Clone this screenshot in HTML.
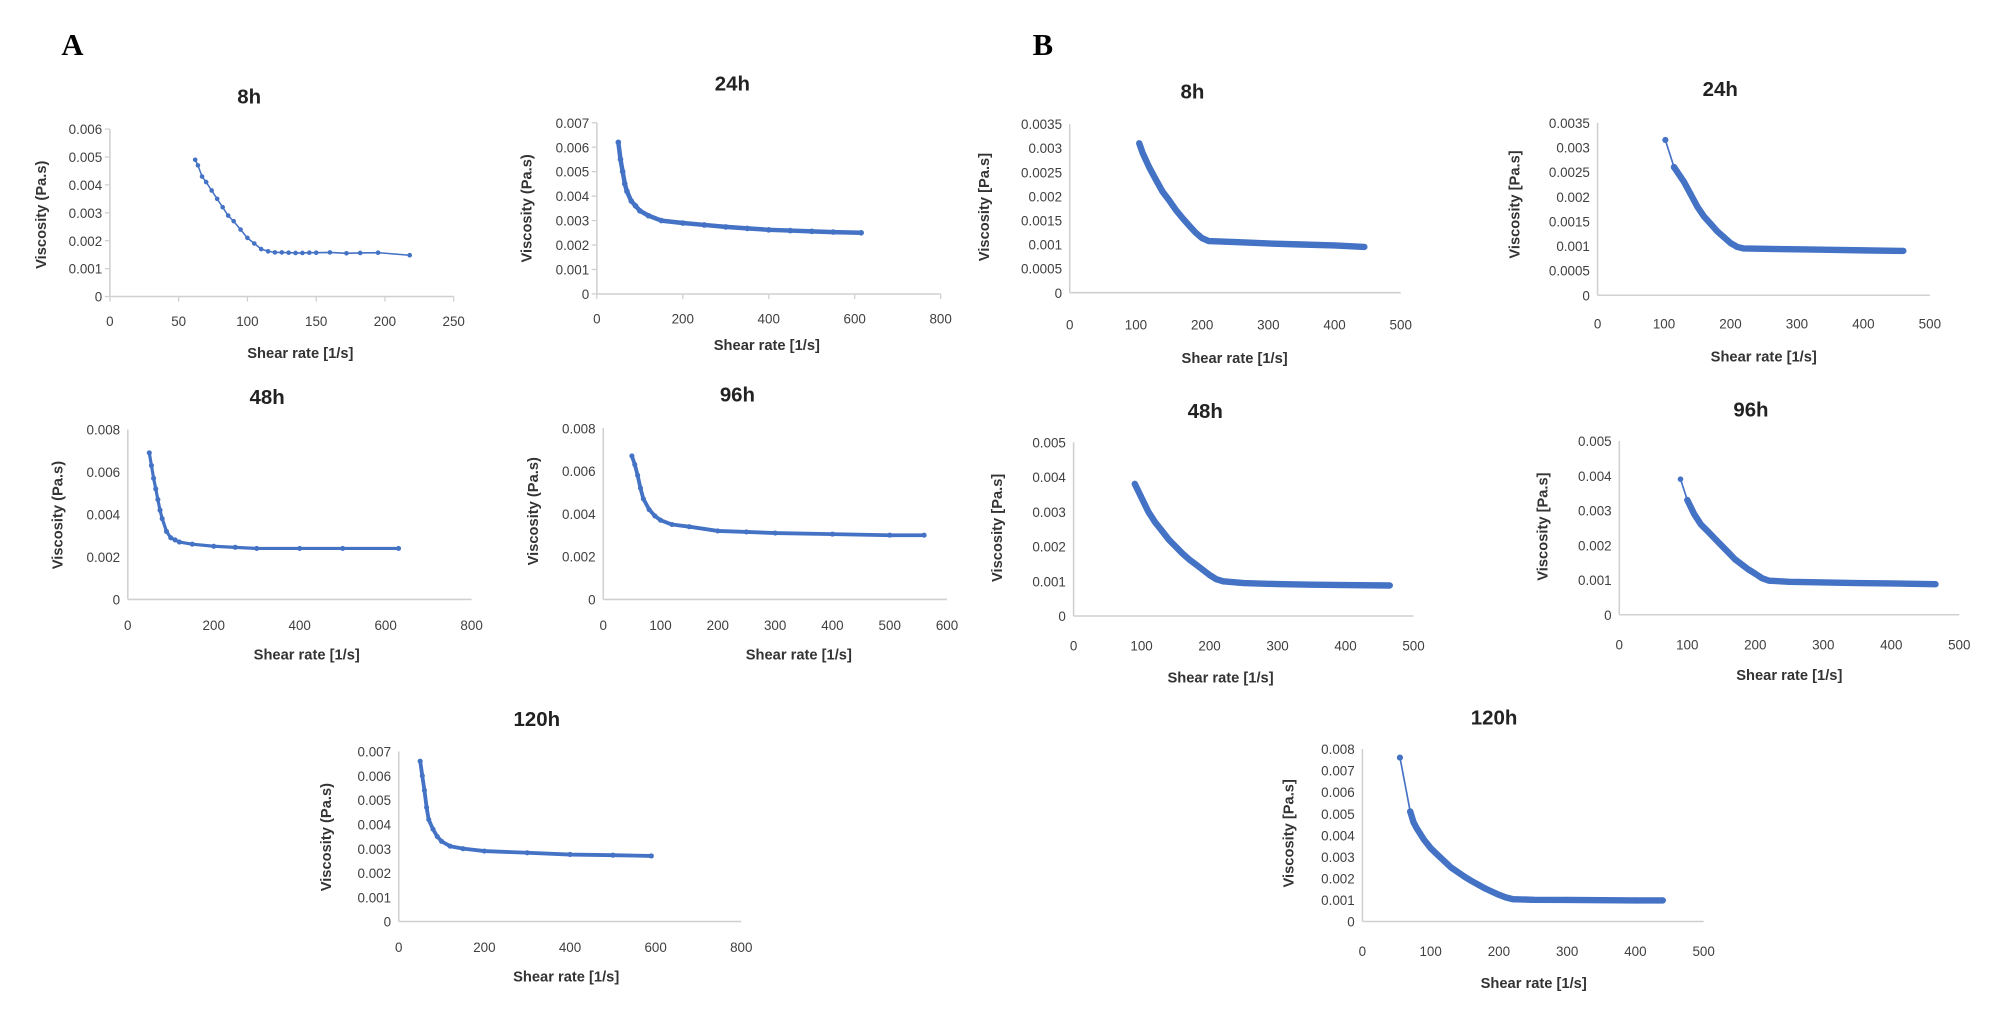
<!DOCTYPE html>
<html><head><meta charset="utf-8"><style>
html,body{margin:0;padding:0;background:#fff}
svg{display:block}
text{font-family:"Liberation Sans",sans-serif;fill:#404040}
.tick{font-size:10.5px}
.title{font-size:16px;font-weight:bold;fill:#222}
.axt{font-size:11.5px;font-weight:bold;fill:#333}
.panel{font-family:"Liberation Serif",serif;font-size:24px;font-weight:bold;fill:#000}
</style></head><body>
<svg id="fig" width="2004" height="1018" viewBox="0 0 1568 796.5" preserveAspectRatio="none" xmlns="http://www.w3.org/2000/svg">
<text class="panel" x="48" y="43">A</text>
<text class="panel" x="808" y="43">B</text>
</svg>
<script>
// ---- data (shear rate [1/s], viscosity [Pa.s]) ----
const a8x=[62,64,67,70,74,78,82,86,90,95,100,105,110,115,120,125,130,135,140,145,150,160,172,182,195,218];
const a8y=[0.0049,0.0047,0.0043,0.0041,0.0038,0.0035,0.0032,0.0029,0.0027,0.0024,0.0021,0.0019,0.0017,0.00162,0.00158,0.00158,0.00157,0.00156,0.00156,0.00157,0.00157,0.00158,0.00155,0.00156,0.00157,0.00148];
const a24x=[50,55,60,65,70,80,90,100,120,150,200,250,300,350,400,450,500,550,615];
const a24y=[0.0062,0.0055,0.005,0.0045,0.0042,0.0038,0.0036,0.0034,0.0032,0.0030,0.0029,0.00282,0.00274,0.00268,0.00262,0.00259,0.00256,0.00253,0.0025];
const a48x=[50,55,60,65,70,75,80,90,100,110,120,150,200,250,300,400,500,630];
const a48y=[0.0069,0.0063,0.0057,0.0052,0.0047,0.0042,0.0038,0.0032,0.0029,0.0028,0.0027,0.0026,0.0025,0.00245,0.0024,0.0024,0.0024,0.0024];
const a96x=[50,55,60,65,70,80,90,100,120,150,200,250,300,400,500,560];
const a96y=[0.0067,0.0063,0.0058,0.0052,0.0047,0.0042,0.0039,0.0037,0.0035,0.0034,0.0032,0.00315,0.0031,0.00305,0.003,0.003];
const a120x=[50,55,60,65,70,80,90,100,120,150,200,300,400,500,590];
const a120y=[0.0066,0.0060,0.0054,0.0047,0.0042,0.0038,0.0035,0.0033,0.0031,0.003,0.0029,0.00283,0.00276,0.00273,0.0027];
const b8x=[105,110,120,130,140,150,160,170,180,190,200,210,250,300,350,400,445];
const b8y=[0.0031,0.0029,0.0026,0.00235,0.0021,0.00192,0.00172,0.00155,0.0014,0.00125,0.00113,0.00107,0.00105,0.00102,0.001,0.00098,0.00095];
const b24x=[102,115,120,130,140,150,160,170,180,190,200,210,220,250,300,350,400,460];
const b24y=[0.00315,0.0026,0.0025,0.0023,0.00205,0.0018,0.0016,0.00145,0.0013,0.00118,0.00106,0.00098,0.00095,0.00094,0.00093,0.00092,0.00091,0.0009];
const b48x=[90,100,110,120,130,140,150,160,170,180,190,200,210,220,250,300,350,400,465];
const b48y=[0.0038,0.0034,0.003,0.0027,0.00245,0.0022,0.002,0.0018,0.00163,0.00148,0.00133,0.00118,0.00106,0.001,0.00095,0.00092,0.0009,0.00089,0.00088];
const b96x=[90,100,105,110,120,130,140,150,160,170,180,190,200,210,220,250,300,350,400,465];
const b96y=[0.0039,0.0033,0.0031,0.0029,0.0026,0.0024,0.0022,0.002,0.0018,0.0016,0.00145,0.0013,0.00118,0.00105,0.00098,0.00095,0.00093,0.00091,0.0009,0.00088];
const b120x=[55,70,75,80,90,100,110,120,130,140,150,160,170,180,190,200,210,220,250,300,350,400,440];
const b120y=[0.0076,0.0051,0.0046,0.0043,0.0038,0.0034,0.0031,0.0028,0.0025,0.00228,0.00207,0.00188,0.0017,0.00153,0.00138,0.00124,0.00112,0.00104,0.00101,0.001,0.00099,0.00098,0.00098];
// tick labels
const ticksA8x=[0,50,100,150,200,250], ticksA8y=["0","0.001","0.002","0.003","0.004","0.005","0.006"];
const ticks800=[0,200,400,600,800], ticks600=[0,100,200,300,400,500,600], ticks500=[0,100,200,300,400,500];
const ticksY7=["0","0.001","0.002","0.003","0.004","0.005","0.006","0.007"];
const ticksY8a=["0","0.002","0.004","0.006","0.008"];
const ticksY35=["0","0.0005","0.001","0.0015","0.002","0.0025","0.003","0.0035"];
const ticksY5=["0","0.001","0.002","0.003","0.004","0.005"];
const ticksY8=["0","0.001","0.002","0.003","0.004","0.005","0.006","0.007","0.008"];

const NS="http://www.w3.org/2000/svg", svg=document.getElementById('fig');
function mk(tag,attrs,parent){const e=document.createElementNS(NS,tag);for(const k in attrs)e.setAttribute(k,attrs[k]);(parent||svg).appendChild(e);return e;}
function chart(id,L){
  const g=mk('g',{});
  
  
  const xmax=L.xt[L.xt.length-1], ymax=parseFloat(L.yt[L.yt.length-1]);
  const sx=v=>L.x0+(v/xmax)*(L.x1-L.x0), sy=v=>L.y0-(v/ymax)*(L.y0-L.y1);
  const t=mk('text',{x:L.tx,y:L.ty,'text-anchor':'middle',class:'title'},g);t.textContent=L.title;
  
  
  const ax=mk('line',{x1:L.x0,y1:L.y0,x2:L.x1,y2:L.y0,stroke:'#d0d0d0','stroke-width':1.2},g);
  
  
  const ay=mk('line',{x1:L.x0,y1:L.y0,x2:L.x0,y2:L.y1,stroke:'#d0d0d0','stroke-width':1.2},g);
  
  
  L.xt.forEach(v=>{const x=sx(v);
    if(L.xticks)mk('line',{x1:x,y1:L.y0,x2:x,y2:L.y0+4,stroke:'#d0d0d0'},g);
    const tx=mk('text',{x:x,y:L.xly,'text-anchor':'middle',class:'tick'},g);tx.textContent=v;
    
    });
  L.yt.forEach(s=>{const y=sy(parseFloat(s));
    if(L.xticks)mk('line',{x1:L.x0-4,y1:y,x2:L.x0,y2:y,stroke:'#d0d0d0'},g);
    const ty=mk('text',{x:L.x0-6,y:y+4,'text-anchor':'end',class:'tick'},g);ty.textContent=s;
    
    });
  const xl=mk('text',{x:L.xlx,y:L.xlyy,'text-anchor':'middle',class:'axt'},g);xl.textContent=L.xlab;
  
  
  const yl=mk('text',{x:0,y:0,'text-anchor':'middle',class:'axt',transform:`translate(${L.ylx},${L.yly}) rotate(-90)`},g);yl.textContent=L.ylab;
  
  
  const s0=L.thin||0;
  if(s0>0){
    const d0=L.xs.slice(0,s0+1).map((v,i)=>(i?'L':'M')+sx(v).toFixed(1)+' '+sy(L.ys[i]).toFixed(1)).join(' ');
    const p0=mk('path',{d:d0,fill:'none',stroke:'#4472c4','stroke-width':1.3},g);
    
    
  }
  const d=L.xs.slice(s0).map((v,i)=>(i?'L':'M')+sx(v).toFixed(1)+' '+sy(L.ys[i+s0]).toFixed(1)).join(' ');
  const p=mk('path',{d:d,fill:'none',stroke:'#4472c4','stroke-width':L.sw,'stroke-linejoin':'round','stroke-linecap':'round'},g);
  
  
  L.xs.forEach((v,i)=>{const c=mk('circle',{cx:sx(v),cy:sy(L.ys[i]),r:L.r,fill:'#4472c4'},g);
    
    });
}
const VP="Viscosity (Pa.s)", VB="Viscosity  [Pa.s]";
chart('chart-a-8h',{title:'8h',tx:195,ty:81,x0:86,x1:355,y0:232,y1:101,xt:ticksA8x,yt:ticksA8y,xly:255,xlab:'Shear rate [1/s]',xlx:235,xlyy:280,ylab:VP,ylx:36,yly:168,xs:a8x,ys:a8y,sw:1.2,r:1.8,xticks:true});
chart('chart-a-24h',{title:'24h',tx:573,ty:71,x0:467,x1:736,y0:230,y1:96,xt:ticks800,yt:ticksY7,xly:253,xlab:'Shear rate  [1/s]',xlx:600,xlyy:274,ylab:VP,ylx:416,yly:163,xs:a24x,ys:a24y,sw:3.5,r:2.2,xticks:true});
chart('chart-a-48h',{title:'48h',tx:209,ty:316,x0:100,x1:369,y0:469,y1:336,xt:ticks800,yt:ticksY8a,xly:493,xlab:'Shear rate  [1/s]',xlx:240,xlyy:516,ylab:VP,ylx:49,yly:403,xs:a48x,ys:a48y,sw:2.5,r:2,xticks:false});
chart('chart-a-96h',{title:'96h',tx:577,ty:314,x0:472,x1:741,y0:469,y1:335,xt:ticks600,yt:ticksY8a,xly:493,xlab:'Shear rate [1/s]',xlx:625,xlyy:516,ylab:VP,ylx:421,yly:400,xs:a96x,ys:a96y,sw:3,r:2,xticks:false});
chart('chart-a-120h',{title:'120h',tx:420,ty:568,x0:312,x1:580,y0:721,y1:588,xt:ticks800,yt:ticksY7,xly:745,xlab:'Shear rate [1/s]',xlx:443,xlyy:768,ylab:VP,ylx:259,yly:655,xs:a120x,ys:a120y,sw:3,r:2,xticks:false});
chart('chart-b-8h',{title:'8h',tx:933,ty:77,x0:837,x1:1096,y0:229,y1:97,xt:ticks500,yt:ticksY35,xly:258,xlab:'Shear rate [1/s]',xlx:966,xlyy:284,ylab:VB,ylx:774,yly:162,xs:b8x,ys:b8y,sw:5,r:2.2,xticks:false});
chart('chart-b-24h',{title:'24h',tx:1346,ty:75,x0:1250,x1:1510,y0:231,y1:96,xt:ticks500,yt:ticksY35,xly:257,xlab:'Shear rate [1/s]',xlx:1380,xlyy:283,ylab:VB,ylx:1189,yly:160,xs:b24x,ys:b24y,sw:5,r:2.4,xticks:false,thin:1});
chart('chart-b-48h',{title:'48h',tx:943,ty:327,x0:840,x1:1106,y0:482,y1:346,xt:ticks500,yt:ticksY5,xly:509,xlab:'Shear rate [1/s]',xlx:955,xlyy:534,ylab:VB,ylx:784,yly:413,xs:b48x,ys:b48y,sw:5,r:2.2,xticks:false});
chart('chart-b-96h',{title:'96h',tx:1370,ty:326,x0:1267,x1:1533,y0:481,y1:345,xt:ticks500,yt:ticksY5,xly:508,xlab:'Shear rate [1/s]',xlx:1400,xlyy:532,ylab:VB,ylx:1211,yly:412,xs:b96x,ys:b96y,sw:5,r:2.2,xticks:false,thin:1});
chart('chart-b-120h',{title:'120h',tx:1169,ty:567,x0:1066,x1:1333,y0:721,y1:586,xt:ticks500,yt:ticksY8,xly:748,xlab:'Shear rate [1/s]',xlx:1200,xlyy:773,ylab:VB,ylx:1012,yly:652,xs:b120x,ys:b120y,sw:5,r:2.4,xticks:false,thin:1});
</script>
</body></html>
